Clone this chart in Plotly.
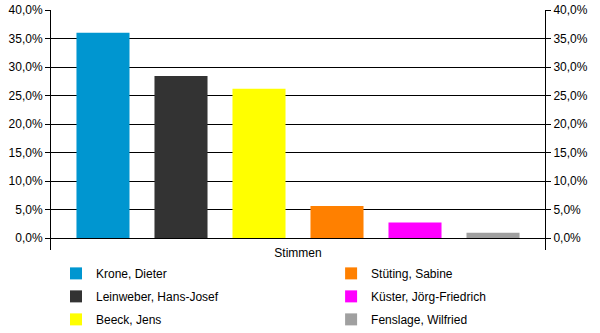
import plotly.graph_objects as go

category = ["Stimmen"]
candidates = ["Krone, Dieter", "Leinweber, Hans-Josef", "Beeck, Jens",
              "Stüting, Sabine", "Küster, Jörg-Friedrich", "Fenslage, Wilfried"]
shares = [36.0, 28.4, 26.2, 5.6, 2.7, 0.9]
colors = ["#0096d0", "#333333", "#ffff00", "#ff8000", "#ff00ff", "#a0a0a0"]
legend_ids = ["legend", "legend", "legend", "legend2", "legend2", "legend2"]
y_ticks = [0, 5, 10, 15, 20, 25, 30, 35, 40]
y_ticktext = [f"{v:.1f}".replace(".", ",") + "%" for v in y_ticks]

FONT = "Liberation Sans, Arial, sans-serif"

fig = go.Figure()
for name, val, col, lg in zip(candidates, shares, colors, legend_ids):
    fig.add_trace(go.Bar(
        x=category, y=[val], name=name, marker=dict(color=col, line=dict(width=0)),
        legend=lg, legendgroup=name, hoverinfo="skip",
    ))
# invisible trace to activate right axis
fig.add_trace(go.Scatter(x=category, y=[0], yaxis="y2", showlegend=False,
                         mode="markers", marker=dict(opacity=0), hoverinfo="skip"))

yr = [-2.105, 40]
common_y = dict(range=yr, tickmode="array", tickvals=y_ticks, ticktext=y_ticktext,
                showline=True, linecolor="black", linewidth=1,
                ticks="outside", ticklen=5, tickcolor="black", tickwidth=1,
                tickfont=dict(family=FONT, size=12, color="black"),
                zeroline=False, fixedrange=True)

fig.update_layout(
    width=600, height=333,
    margin=dict(l=51, r=55, t=10, b=83, autoexpand=False),
    paper_bgcolor="white", plot_bgcolor="white",
    font=dict(family=FONT, size=12, color="black"),
    barmode="group", bargap=0.0526, bargroupgap=0.32,
    xaxis=dict(showline=False, showgrid=False, ticks="", anchor="free", position=0.025,
               tickfont=dict(family=FONT, size=12, color="black"), fixedrange=True),
    yaxis=dict(**common_y, showgrid=True, gridcolor="black", gridwidth=1),
    yaxis2=dict(**common_y, overlaying="y", side="right", showgrid=False),
    legend=dict(orientation="v", x=0.0101, xanchor="left", y=-0.037, yanchor="top",
                tracegroupgap=4, font=dict(family=FONT, size=12, color="black"),
                bgcolor="rgba(0,0,0,0)"),
    legend2=dict(orientation="v", x=0.567, xanchor="left", y=-0.037, yanchor="top",
                 tracegroupgap=4, font=dict(family=FONT, size=12, color="black"),
                 bgcolor="rgba(0,0,0,0)"),
)

fig.write_html("out.html")
